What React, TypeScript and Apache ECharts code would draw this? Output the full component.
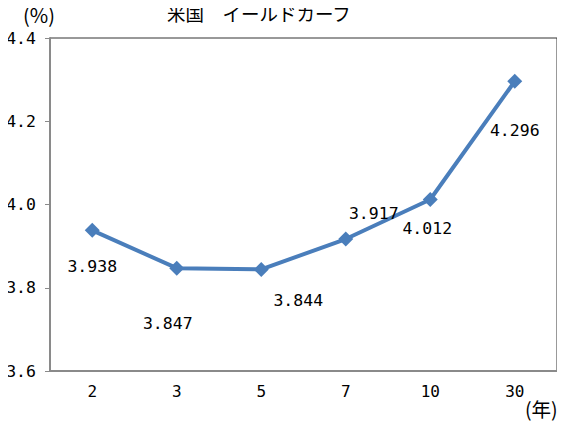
import React, { useEffect, useRef } from "react";
import * as echarts from "echarts";

const categories = ["2", "3", "5", "7", "10", "30"];
const yields = [3.938, 3.847, 3.844, 3.917, 4.012, 4.296];
const labelOffsets: [number, number][] = [
  [0, 36],
  [-9, 55],
  [37, 31],
  [28, -26],
  [-3, 29],
  [0, 49],
];

const MONO = "'DejaVu Sans Mono', 'Liberation Mono', monospace";
const CJK = "'Noto Sans CJK JP', sans-serif";

export default function App() {
  const ref = useRef<HTMLDivElement>(null);
  useEffect(() => {
    if (!ref.current) return;
    const chart = echarts.init(ref.current, null, { renderer: "svg" });
    chart.setOption({
      animation: false,
      backgroundColor: "#ffffff",
      grid: { left: 50, top: 38, right: 8, bottom: 52, show: true, borderColor: "#333", borderWidth: 1 },
      xAxis: {
        type: "category",
        data: categories,
        boundaryGap: true,
        axisLine: { lineStyle: { color: "#8a8a8a", width: 2 } },
        axisTick: { show: false },
        axisLabel: { color: "#000", fontFamily: MONO, fontSize: 16, margin: 12 },
      },
      yAxis: {
        type: "value",
        min: 3.6,
        max: 4.4,
        interval: 0.2,
        axisLine: { show: true, lineStyle: { color: "#8a8a8a", width: 2 } },
        axisTick: { show: true, length: 5, lineStyle: { color: "#8a8a8a", width: 1 } },
        splitLine: { show: false },
        axisLabel: {
          color: "#000",
          fontFamily: MONO,
          fontSize: 16.5,
          margin: 14,
          formatter: (v: number) => v.toFixed(1),
        },
      },
      graphic: [
        { type: "text", left: 23, top: 4, style: { text: "(%)", font: `20px ${CJK}`, fill: "#000" } },
        { type: "text", left: 167, top: 4, style: { text: "米国\u3000イールドカーブ", font: `18.5px ${CJK}`, fill: "#000" } },
        { type: "text", left: 525, top: 399, style: { text: "(年)", font: `19.5px ${CJK}`, fill: "#000" } },
      ],
      series: [
        {
          type: "line",
          data: yields.map((v, i) => ({
            value: v,
            label: { offset: labelOffsets[i] },
          })),
          symbol: "diamond",
          symbolSize: 15,
          lineStyle: { color: "#4a7ebb", width: 4 },
          itemStyle: { color: "#4a7ebb" },
          label: {
            show: true,
            position: "inside",
            color: "#000",
            fontFamily: MONO,
            fontSize: 16.5,
            formatter: (p: any) => p.value.toFixed(3),
          },
        },
      ],
    });
    return () => chart.dispose();
  }, []);
  return <div ref={ref} style={{ width: 565, height: 423, marginLeft: -8, marginTop: -8 }} />;
}
